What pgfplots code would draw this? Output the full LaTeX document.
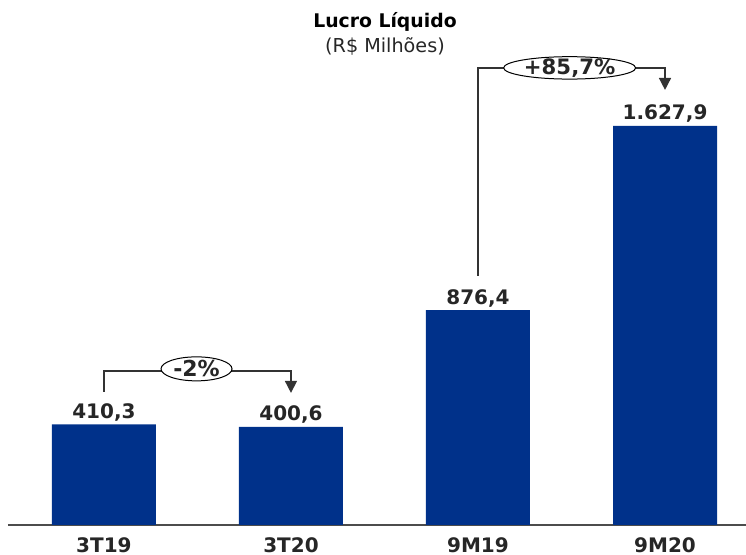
\documentclass[border=0pt]{standalone}
\usepackage{pgfplots}
\pgfplotsset{compat=1.18}
\usepackage{fontspec}
\setmainfont{DejaVu Sans}
\usetikzlibrary{arrows.meta}
\definecolor{barblue}{RGB}{0,49,138}
\definecolor{linegray}{RGB}{51,51,51}
\begin{document}
\begin{tikzpicture}
\useasboundingbox (0,0) rectangle (373pt,277.5pt);
\begin{axis}[
  at={(4pt,15pt)}, anchor=south west,
  scale only axis, width=369pt, height=262.5pt,
  xmin=-0.513, xmax=3.433, ymin=0, ymax=2142,
  axis x line=bottom, axis y line=none,
  axis line style={-, draw=black!70, line width=0.6pt},
  xtick={0,1,2,3}, xticklabels={3T19,3T20,9M19,9M20},
  xtick style={draw=none},
  xticklabel style={font=\bfseries\fontsize{10}{12}\selectfont, text=black!85,
    anchor=north, inner sep=0pt, yshift=-1.8pt},
  ytick=\empty,
  clip=false,
  ybar, bar width=52pt,
  point meta=explicit symbolic,
  nodes near coords,
  nodes near coords style={anchor=base, inner sep=0pt, yshift=3pt,
    font=\bfseries\fontsize{10}{12}\selectfont, text=black!85},
]
\addplot[fill=barblue, draw=none] coordinates {
  (0,410.3) [410,3]
  (1,400.6) [400,6]
  (2,876.4) [876,4]
  (3,1627.9) [1.627,9]
};

% variation brackets
\draw[linegray, line width=0.75pt, -{Triangle[width=6pt,length=6pt]}]
  (axis cs:0,543) -- (axis cs:0,628) -- (axis cs:1,628) -- (axis cs:1,539);
\draw[black, line width=0.5pt, fill=white]
  (axis cs:0.495,637) ellipse [x radius=17.75pt, y radius=6pt];
\node[inner sep=0pt, font=\bfseries\fontsize{11}{13}\selectfont, text=black!85]
  at (axis cs:0.495,637) {-2\%};

\draw[linegray, line width=0.75pt, -{Triangle[width=6pt,length=6pt]}]
  (axis cs:2,1016) -- (axis cs:2,1865) -- (axis cs:3,1865) -- (axis cs:3,1775);
\draw[black, line width=0.5pt, fill=white]
  (axis cs:2.49,1865) ellipse [x radius=33pt, y radius=5.6pt];
\node[inner sep=0pt, font=\bfseries\fontsize{10.6}{13}\selectfont, text=black!85]
  at (axis cs:2.49,1865) {+85,7\%};
\end{axis}

% title
\node[anchor=base, inner sep=0pt, font=\bfseries\fontsize{9.4}{11}\selectfont, text=black]
  at (192.5pt,263.5pt) {Lucro Líquido};
\node[anchor=base, inner sep=0pt, font=\fontsize{9.6}{11}\selectfont, text=black!85]
  at (192.5pt,251pt) {(R\$ Milhões)};
\end{tikzpicture}
\end{document}
